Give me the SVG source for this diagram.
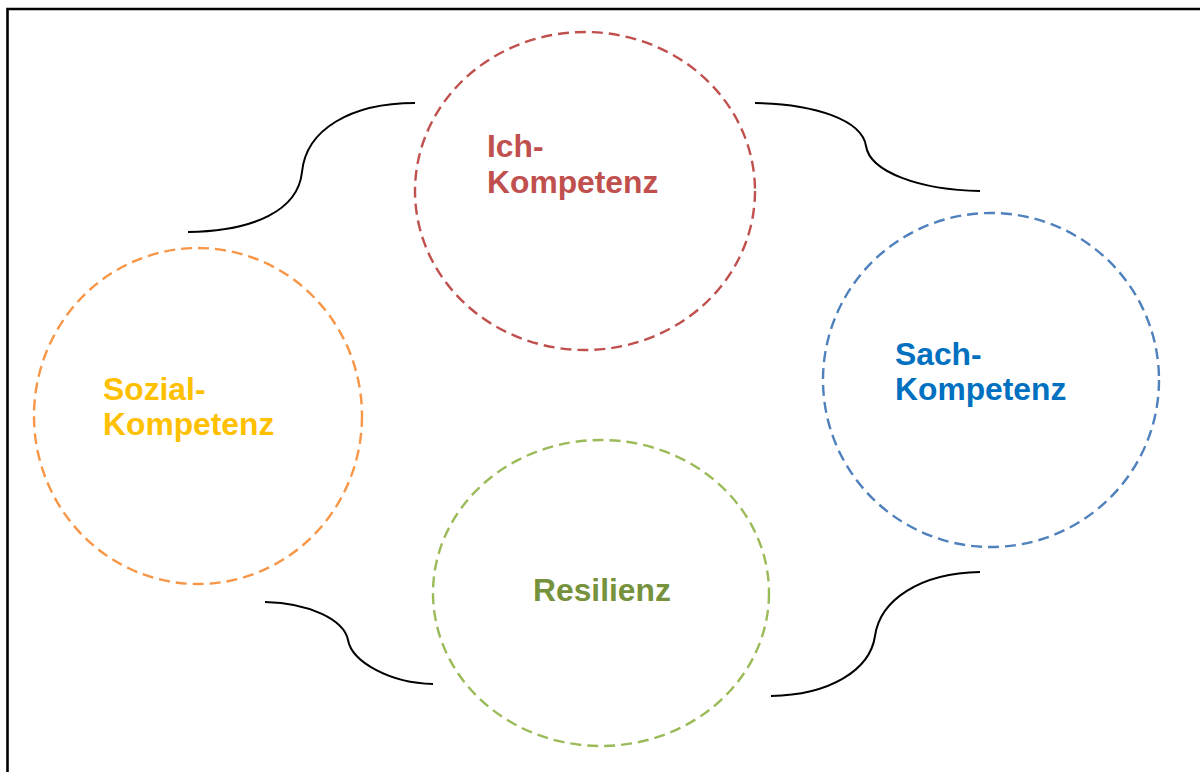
<svg xmlns="http://www.w3.org/2000/svg" width="1200" height="772" viewBox="0 0 1200 772">
  <style>
    .ring { fill: none; stroke-width: 2.4; stroke-dasharray: 11 6; }
    .label { font-family: "Liberation Sans", Arial, sans-serif; font-weight: bold; font-size: 31.8px; }
    .brace { fill: none; stroke: #000; stroke-width: 2; }
  </style>
  <rect x="0" y="0" width="1200" height="772" fill="#fff"/>
  <!-- frame -->
  <path d="M7.5,772 V9 H1200" fill="none" stroke="#000" stroke-width="2.6"/>

  <g id="connectors">
    <path class="brace" d="M188,232 C255,231 298,210 302,172 C306,130 350,103 415,103"/>
    <path class="brace" d="M755,103 C815,104 862,120 866,146 C870,172 920,190 980,191"/>
    <path class="brace" d="M265,602 C310,603 344,620 348,640 C352,662 390,683 433,684"/>
    <path class="brace" d="M771,696 C830,695 870,670 875,636 C880,600 920,573 980,572"/>
  </g>

  <g id="ich">
    <ellipse class="ring" cx="585" cy="191" rx="170" ry="159" stroke="#C0504D"/>
    <text class="label" fill="#C0504D" x="487" y="157">Ich-</text>
    <text class="label" fill="#C0504D" x="487" y="193">Kompetenz</text>
  </g>

  <g id="sach">
    <ellipse class="ring" cx="991" cy="380" rx="168" ry="167" stroke="#4F81BD"/>
    <text class="label" fill="#0070C0" x="895" y="365">Sach-</text>
    <text class="label" fill="#0070C0" x="895" y="400">Kompetenz</text>
  </g>

  <g id="sozial">
    <ellipse class="ring" cx="198" cy="416" rx="164" ry="168" stroke="#F79646"/>
    <text class="label" fill="#FFC000" x="103" y="400">Sozial-</text>
    <text class="label" fill="#FFC000" x="103" y="435">Kompetenz</text>
  </g>

  <g id="resilienz">
    <ellipse class="ring" cx="601" cy="593" rx="168" ry="153" stroke="#9BBB59"/>
    <text class="label" fill="#76923C" x="533" y="601">Resilienz</text>
  </g>
</svg>
